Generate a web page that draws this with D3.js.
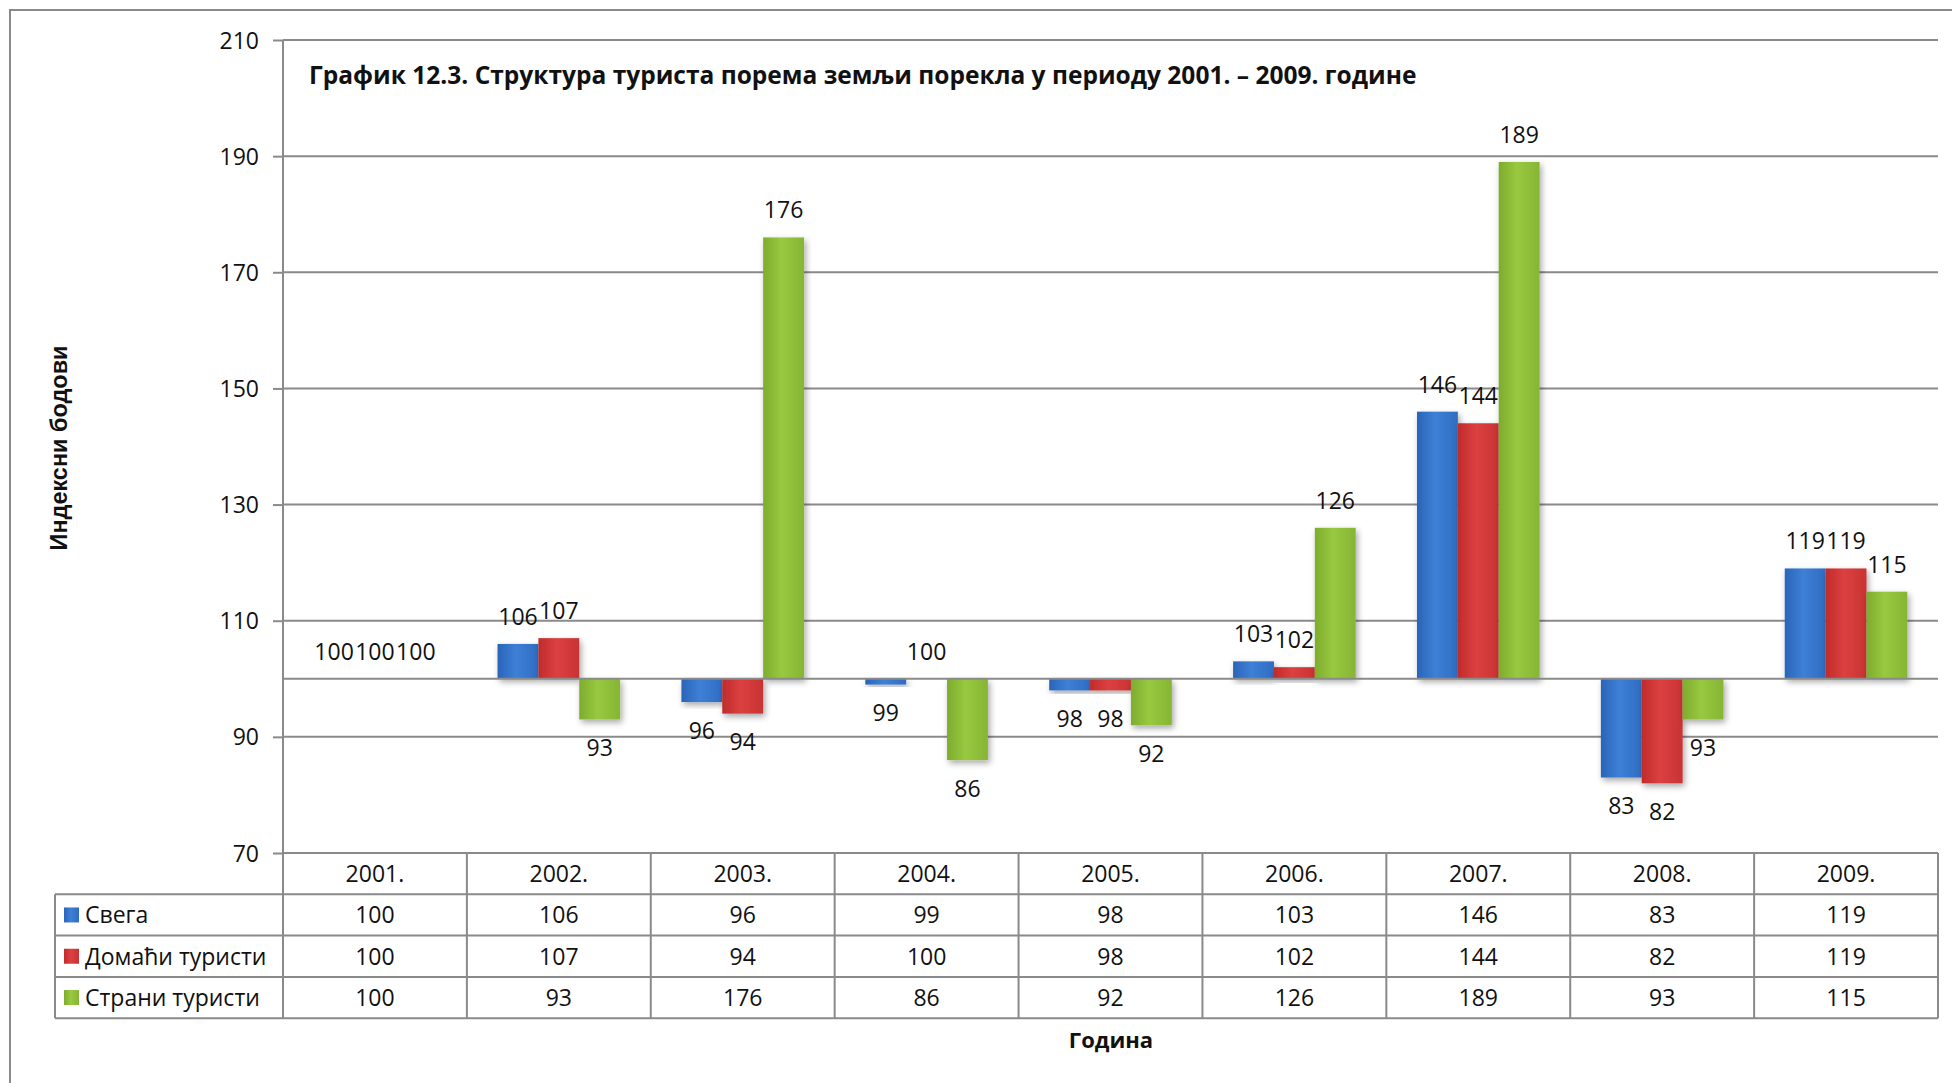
<!DOCTYPE html>
<html>
<head>
<meta charset="utf-8">
<script src="https://cdn.jsdelivr.net/npm/d3@7"></script>
<style>
html,body{margin:0;padding:0;background:#fff;}
svg{display:block;}
text{font-family:"Open Sans",sans-serif;fill:#111;}
</style>
</head>
<body>
<script>
// ---- data ----
const years = ["2001.","2002.","2003.","2004.","2005.","2006.","2007.","2008.","2009."];
const seriesNames = ["Свега","Домаћи туристи","Страни туристи"];
const svega  = [100,106,96,99,98,103,146,83,119];
const domaci = [100,107,94,100,98,102,144,82,119];
const strani = [100,93,176,86,92,126,189,93,115];
const yTicks = [70,90,110,130,150,170,190,210];
const baseValue = 100;
const titleText = "График 12.3. Структура туриста порема земљи порекла у периоду 2001. – 2009. године";
const yTitle = "Индексни бодови";
const xTitle = "Година";

const seriesValues = [svega, domaci, strani];
const colors = [
  ["#2a64b8","#3d80d6","#2f6cc2"],
  ["#c02b2b","#dc4040","#c83333"],
  ["#7eac2e","#98c940","#86b534"]
];

const W = 1952, H = 1083;
const L = 283, R = 1938, T = 40, B = 853;
const rowH = 41.3;
const legendLeft = 55;

const svg = d3.select("body").append("svg").attr("width", W).attr("height", H);
const defs = svg.append("defs");
const f = defs.append("filter").attr("id","shadow").attr("x","-30%").attr("y","-30%").attr("width","160%").attr("height","160%");
f.append("feDropShadow").attr("dx",2).attr("dy",3).attr("stdDeviation",3).attr("flood-color","#000").attr("flood-opacity",0.35);
colors.forEach((c,i)=>{
  const g = defs.append("linearGradient").attr("id","grad"+i).attr("x1","0").attr("x2","1").attr("y1","0").attr("y2","0");
  g.append("stop").attr("offset","0%").attr("stop-color",c[0]);
  g.append("stop").attr("offset","45%").attr("stop-color",c[1]);
  g.append("stop").attr("offset","100%").attr("stop-color",c[2]);
});

const grey = "#8a8a8a";

// outer frame
svg.append("rect").attr("x",10).attr("y",10).attr("width",W+20).attr("height",H+20)
  .attr("fill","none").attr("stroke",grey).attr("stroke-width",2);

// scales
const x0 = d3.scaleBand().domain(years).range([L,R]).padding(0);
const x1 = d3.scaleBand().domain(seriesNames).range([0,x0.bandwidth()]).paddingInner(0).paddingOuter(0.75);
const y = d3.scaleLinear().domain([70,210]).range([B,T]);

// gridlines
svg.append("g").selectAll("line").data(yTicks).join("line")
  .attr("x1",L).attr("x2",R).attr("y1",d=>y(d)).attr("y2",d=>y(d))
  .attr("stroke",grey).attr("stroke-width",2);

// y axis
const yAxis = svg.append("g").attr("transform",`translate(${L},0)`)
  .call(d3.axisLeft(y).tickValues(yTicks).tickSize(10).tickPadding(14).tickFormat(d3.format("d")));
yAxis.select(".domain").remove();
yAxis.selectAll(".tick line").attr("stroke",grey).attr("stroke-width",2);
yAxis.selectAll(".tick text").attr("font-size",23).attr("fill","#111").attr("font-family","Open Sans").attr("dy","0.35em");

// bars
const groups = svg.append("g").selectAll("g").data(years).join("g")
  .attr("transform",d=>`translate(${x0(d)},0)`);
groups.selectAll("rect").data((d,i)=>seriesNames.map((s,j)=>({s,j,v:seriesValues[j][i]}))).join("rect")
  .attr("x",d=>x1(d.s)).attr("width",x1.bandwidth())
  .attr("y",d=>y(Math.max(d.v,baseValue)))
  .attr("height",d=>Math.abs(y(d.v)-y(baseValue)))
  .attr("fill",d=>`url(#grad${d.j})`)
  .attr("filter",d=>d.v===baseValue?null:"url(#shadow)");

// category axis line at base value
svg.append("line").attr("x1",L).attr("x2",R).attr("y1",y(baseValue)).attr("y2",y(baseValue))
  .attr("stroke",grey).attr("stroke-width",2);

// y axis line
svg.append("line").attr("x1",L).attr("x2",L).attr("y1",T).attr("y2",B+4*rowH)
  .attr("stroke",grey).attr("stroke-width",2);

// data labels
groups.selectAll("text.lbl").data((d,i)=>seriesNames.map((s,j)=>({s,j,v:seriesValues[j][i]}))).join("text")
  .attr("class","lbl")
  .attr("x",d=>x1(d.s)+x1.bandwidth()/2)
  .attr("y",d=>d.v>=baseValue ? y(d.v)-19 : y(d.v)+36.5)
  .attr("text-anchor","middle").attr("font-size",23)
  .text(d=>d.v);

// table
const tbl = svg.append("g");
for(let r=0;r<=4;r++){
  tbl.append("line").attr("x1", r===0?L:legendLeft).attr("x2",R)
    .attr("y1",B+r*rowH).attr("y2",B+r*rowH).attr("stroke",grey).attr("stroke-width",2);
}
years.forEach((yr,i)=>{
  tbl.append("line").attr("x1",x0(yr)+x0.bandwidth()).attr("x2",x0(yr)+x0.bandwidth())
    .attr("y1",B).attr("y2",B+4*rowH).attr("stroke",grey).attr("stroke-width",2);
});
tbl.append("line").attr("x1",legendLeft).attr("x2",legendLeft).attr("y1",B+rowH).attr("y2",B+4*rowH)
  .attr("stroke",grey).attr("stroke-width",2);
tbl.selectAll("text.hdr").data(years).join("text").attr("class","hdr")
  .attr("x",d=>x0(d)+x0.bandwidth()/2).attr("y",B+rowH/2).attr("dy","0.36em")
  .attr("text-anchor","middle").attr("font-size",23).text(d=>d);
seriesNames.forEach((s,j)=>{
  const cy = B+(j+1)*rowH+rowH/2;
  tbl.append("rect").attr("x",64).attr("y",cy-7.5).attr("width",15).attr("height",15)
    .attr("fill",`url(#grad${j})`);
  tbl.append("text").attr("x",85).attr("y",cy).attr("dy","0.36em").attr("font-size",23).text(s);
  tbl.selectAll("text.v"+j).data(seriesValues[j]).join("text").attr("class","v"+j)
    .attr("x",(d,i)=>x0(years[i])+x0.bandwidth()/2).attr("y",cy).attr("dy","0.36em")
    .attr("text-anchor","middle").attr("font-size",23).text(d=>d);
});

function fit(sel, target){
  const w = sel.node().getComputedTextLength();
  const fs = parseFloat(sel.attr("font-size"));
  sel.attr("font-size", fs*target/w);
}

const t = svg.append("text").attr("x",309).attr("y",84).attr("font-weight","bold")
  .attr("font-size",24).text(titleText);
fit(t,1108);

const yt = svg.append("text").attr("transform","translate(67,448) rotate(-90)")
  .attr("text-anchor","middle").attr("font-weight","bold").attr("font-size",19)
  .style("font-family","'Liberation Sans', Arial, sans-serif")
  .text(yTitle);
fit(yt,205);

svg.append("text").attr("x",1111).attr("y",1048).attr("text-anchor","middle")
  .attr("font-weight","bold").attr("font-size",22).text(xTitle);
</script>
</body>
</html>
